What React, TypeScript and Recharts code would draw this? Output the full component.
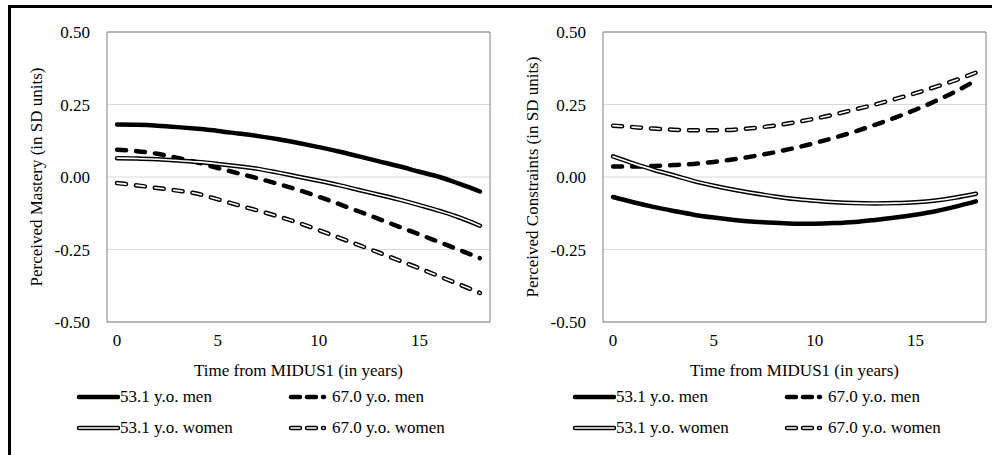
import { LineChart, Line, XAxis, YAxis, CartesianGrid, ReferenceArea, Label } from 'recharts';

const TIME = [0, 1, 2, 3, 4, 5, 6, 7, 8, 9, 10, 11, 12, 13, 14, 15, 16, 17, 18];
const X_TICKS = [0, 5, 10, 15];
const Y_TICKS = [-0.5, -0.25, 0, 0.25, 0.5];

// Perceived Mastery (left panel)
const MASTERY_MEN_53 = [0.181, 0.180, 0.177, 0.172, 0.166, 0.159, 0.150, 0.141, 0.130, 0.117, 0.103, 0.088, 0.071, 0.054, 0.037, 0.018, 0.000, -0.024, -0.050];
const MASTERY_MEN_67 = [0.094, 0.089, 0.080, 0.066, 0.050, 0.031, 0.013, -0.005, -0.024, -0.045, -0.068, -0.093, -0.119, -0.145, -0.172, -0.198, -0.225, -0.252, -0.280];
const MASTERY_WOMEN_53 = [0.065, 0.064, 0.061, 0.057, 0.052, 0.045, 0.037, 0.028, 0.015, 0.001, -0.013, -0.028, -0.045, -0.061, -0.078, -0.097, -0.117, -0.140, -0.168];
const MASTERY_WOMEN_67 = [-0.021, -0.029, -0.038, -0.047, -0.058, -0.077, -0.097, -0.116, -0.136, -0.158, -0.183, -0.209, -0.235, -0.261, -0.288, -0.315, -0.343, -0.371, -0.400];

// Perceived Constraints (right panel)
const CONSTR_MEN_53 = [-0.069, -0.087, -0.103, -0.117, -0.130, -0.140, -0.148, -0.154, -0.158, -0.161, -0.161, -0.159, -0.155, -0.148, -0.140, -0.130, -0.118, -0.102, -0.084];
const CONSTR_MEN_67 = [0.036, 0.036, 0.038, 0.041, 0.045, 0.052, 0.061, 0.072, 0.085, 0.100, 0.117, 0.136, 0.157, 0.180, 0.205, 0.232, 0.262, 0.295, 0.333];
const CONSTR_WOMEN_53 = [0.071, 0.047, 0.025, 0.006, -0.014, -0.030, -0.044, -0.056, -0.067, -0.076, -0.082, -0.087, -0.090, -0.091, -0.090, -0.087, -0.081, -0.071, -0.058];
const CONSTR_WOMEN_67 = [0.177, 0.172, 0.167, 0.163, 0.161, 0.161, 0.163, 0.169, 0.177, 0.188, 0.201, 0.216, 0.233, 0.250, 0.269, 0.289, 0.311, 0.334, 0.360];

const LEGEND_LABELS = ['53.1 y.o. men', '67.0 y.o. men', '53.1 y.o. women', '67.0 y.o. women'];

const FONT = 'Liberation Serif, Tinos, Times New Roman, Times, DejaVu Serif, serif';
const DASH = '9 10';
const ICON_DASH = '9 7';

type IconKind = 'solid' | 'dash' | 'double' | 'dashOutline';

function LegendIcon({ kind }: { kind: IconKind }) {
    const dashed = kind === 'dash' || kind === 'dashOutline';
    const outlined = kind === 'double' || kind === 'dashOutline';
    const x2 = dashed ? 36 : 42;
    return (
        <svg width={44} height={12} style={{ display: 'block' }}>
            <line x1={3} y1={6} x2={x2} y2={6} stroke="#000" strokeWidth={4.5}
                strokeLinecap="round" strokeDasharray={dashed ? ICON_DASH : undefined} />
            {outlined && (
                <line x1={3} y1={6} x2={x2} y2={6} stroke="#fff" strokeWidth={1.6}
                    strokeLinecap="round" strokeDasharray={dashed ? ICON_DASH : undefined} />
            )}
        </svg>
    );
}

function LegendBlock() {
    const items: { kind: IconKind; left: number; top: number }[] = [
        { kind: 'solid', left: 76, top: 397 },
        { kind: 'dash', left: 288, top: 397 },
        { kind: 'double', left: 76, top: 428 },
        { kind: 'dashOutline', left: 288, top: 428 },
    ];
    return (
        <>
            {items.map((it, i) => (
                <div key={i} style={{
                    position: 'absolute', left: it.left, top: it.top - 10, height: 20,
                    display: 'flex', alignItems: 'center', fontFamily: FONT, fontSize: 17, color: '#000',
                    whiteSpace: 'nowrap',
                }}>
                    <LegendIcon kind={it.kind} />
                    <span>{LEGEND_LABELS[i]}</span>
                </div>
            ))}
        </>
    );
}

interface PanelProps {
    yTitle: string;
    men53: number[];
    men67: number[];
    women53: number[];
    women67: number[];
}

function Panel({ yTitle, men53, men67, women53, women67 }: PanelProps) {
    const data = TIME.map((t, i) => ({
        t,
        men53: men53[i],
        men67: men67[i],
        women53: women53[i],
        women67: women67[i],
    }));
    const tickStyle = { fontFamily: FONT, fontSize: 17, fill: '#000' };

    return (
        <LineChart width={496} height={390} data={data} margin={{ top: 32, right: 6, bottom: 8, left: 0 }}
            style={{ fontFamily: FONT }}>
            <CartesianGrid vertical={false} stroke="#d9d9d9" />
            <ReferenceArea x1={-0.5} x2={18.5} y1={-0.5} y2={0.5} fill="none" stroke="#808080" strokeWidth={1} />
            <XAxis type="number" dataKey="t" domain={[-0.5, 18.5]} ticks={X_TICKS} axisLine={false} tickLine={false}
                tickSize={0} tickMargin={12} height={60} tick={tickStyle}>
                <Label value="Time from MIDUS1 (in years)" position="insideBottom" offset={6}
                    style={{ fontFamily: FONT, fontSize: 17, fill: '#000' }} />
            </XAxis>
            <YAxis domain={[-0.5, 0.5]} ticks={Y_TICKS} axisLine={false} tickLine={false} tickSize={0} tickMargin={17}
                width={107} tick={tickStyle} tickFormatter={(v: number) => v.toFixed(2)}>
                <Label value={yTitle} angle={-90} position="insideLeft" offset={36}
                    style={{ fontFamily: FONT, fontSize: 17, fill: '#000', textAnchor: 'middle' }} />
            </YAxis>
            <Line type="monotone" dataKey="men53" stroke="#000" strokeWidth={4.5} dot={false} activeDot={false}
                strokeLinecap="round" isAnimationActive={false} />
            <Line type="monotone" dataKey="men67" stroke="#000" strokeWidth={4.5} strokeDasharray={DASH} dot={false}
                activeDot={false} strokeLinecap="round" isAnimationActive={false} />
            <Line type="monotone" dataKey="women53" stroke="#000" strokeWidth={4.5} dot={false} activeDot={false}
                strokeLinecap="round" isAnimationActive={false} />
            <Line type="monotone" dataKey="women53" stroke="#fff" strokeWidth={1.6} dot={false} activeDot={false}
                strokeLinecap="round" isAnimationActive={false} />
            <Line type="monotone" dataKey="women67" stroke="#000" strokeWidth={4.5} strokeDasharray={DASH} dot={false}
                activeDot={false} strokeLinecap="round" isAnimationActive={false} />
            <Line type="monotone" dataKey="women67" stroke="#fff" strokeWidth={1.6} strokeDasharray={DASH} dot={false}
                activeDot={false} strokeLinecap="round" isAnimationActive={false} />
        </LineChart>
    );
}

export default function App() {
    return (
        <div style={{ position: 'absolute', left: 0, top: 0, width: 992, height: 455, overflow: 'hidden', background: '#fff' }}>
            <div style={{
                position: 'absolute', left: 8, top: 5, width: 1000, height: 470,
                border: '3px solid #000', boxSizing: 'border-box',
            }} />
            <div style={{ position: 'absolute', left: 0, top: 0, width: 496, height: 455 }}>
                <Panel yTitle="Perceived Mastery (in SD units)" men53={MASTERY_MEN_53} men67={MASTERY_MEN_67}
                    women53={MASTERY_WOMEN_53} women67={MASTERY_WOMEN_67} />
                <LegendBlock />
            </div>
            <div style={{ position: 'absolute', left: 496, top: 0, width: 496, height: 455 }}>
                <Panel yTitle="Perceived Constraints (in SD units)" men53={CONSTR_MEN_53} men67={CONSTR_MEN_67}
                    women53={CONSTR_WOMEN_53} women67={CONSTR_WOMEN_67} />
                <LegendBlock />
            </div>
        </div>
    );
}
